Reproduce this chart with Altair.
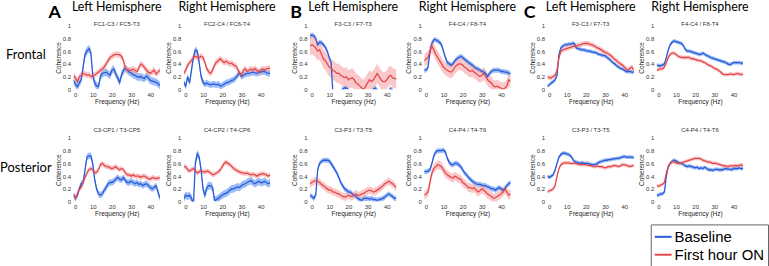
import altair as alt
import pandas as pd

FREQ = list(range(46))
SERIES = ["Baseline", "First hour ON"]

# ---------- Group A ----------
A_L_FRONT_BASE = [0.14, 0.08, 0.04, 0.10, 0.15, 0.35, 0.55, 0.60, 0.64, 0.58, 0.22, 0.10, 0.05, 0.04, 0.20, 0.25,
                  0.26, 0.27, 0.24, 0.22, 0.30, 0.32, 0.24, 0.18, 0.11, 0.22, 0.30, 0.33, 0.30, 0.27, 0.26,
                  0.23, 0.22, 0.20, 0.19, 0.20, 0.18, 0.17, 0.21, 0.18, 0.14, 0.13, 0.12, 0.11, 0.09, 0.06]
A_L_FRONT_FHON = [0.22, 0.18, 0.12, 0.20, 0.22, 0.25, 0.24, 0.22, 0.23, 0.20, 0.21, 0.22, 0.25, 0.27, 0.30, 0.32,
                  0.35, 0.40, 0.45, 0.50, 0.52, 0.54, 0.55, 0.55, 0.54, 0.52, 0.45, 0.33, 0.30, 0.30, 0.30,
                  0.32, 0.30, 0.28, 0.33, 0.40, 0.38, 0.34, 0.30, 0.27, 0.25, 0.28, 0.30, 0.24, 0.27, 0.30]
A_R_FRONT_BASE = [0.11, 0.05, 0.20, 0.10, 0.30, 0.50, 0.62, 0.60, 0.42, 0.20, 0.11, 0.08, 0.10, 0.08, 0.07, 0.08,
                  0.08, 0.07, 0.08, 0.05, 0.06, 0.08, 0.10, 0.11, 0.12, 0.14, 0.15, 0.18, 0.22, 0.26, 0.20,
                  0.22, 0.24, 0.25, 0.25, 0.26, 0.27, 0.26, 0.25, 0.26, 0.27, 0.28, 0.28, 0.26, 0.25, 0.25]
A_R_FRONT_FHON = [0.25, 0.30, 0.38, 0.42, 0.45, 0.50, 0.52, 0.50, 0.50, 0.52, 0.50, 0.42, 0.32, 0.27, 0.25, 0.30,
                  0.38, 0.43, 0.45, 0.48, 0.45, 0.42, 0.44, 0.42, 0.40, 0.41, 0.38, 0.37, 0.32, 0.25, 0.22,
                  0.30, 0.32, 0.28, 0.30, 0.32, 0.30, 0.33, 0.30, 0.27, 0.30, 0.32, 0.30, 0.32, 0.33, 0.33]
A_L_POST_BASE = [0.10, 0.05, 0.10, 0.20, 0.28, 0.30, 0.50, 0.70, 0.72, 0.72, 0.60, 0.35, 0.20, 0.12, 0.10, 0.12,
                 0.18, 0.22, 0.28, 0.30, 0.30, 0.32, 0.35, 0.38, 0.35, 0.34, 0.38, 0.33, 0.30, 0.30, 0.32,
                 0.30, 0.28, 0.30, 0.27, 0.28, 0.25, 0.27, 0.28, 0.25, 0.22, 0.20, 0.22, 0.25, 0.15, 0.05]
A_L_POST_FHON = [0.12, 0.05, 0.12, 0.20, 0.22, 0.30, 0.38, 0.45, 0.50, 0.52, 0.50, 0.45, 0.46, 0.50, 0.58, 0.60,
                 0.57, 0.55, 0.55, 0.53, 0.52, 0.53, 0.55, 0.52, 0.50, 0.52, 0.50, 0.45, 0.42, 0.42, 0.40,
                 0.42, 0.40, 0.40, 0.40, 0.38, 0.40, 0.40, 0.38, 0.36, 0.35, 0.38, 0.37, 0.36, 0.37, 0.37]
A_R_POST_BASE = [0.05, 0.10, 0.08, 0.10, 0.05, -0.05, 0.60, 0.75, 0.70, 0.50, 0.20, 0.10, 0.22, 0.25, 0.25, 0.22,
                 0.02, 0.03, 0.05, 0.08, 0.10, 0.12, 0.13, 0.15, 0.18, 0.20, 0.20, 0.22, 0.23, 0.22, 0.25,
                 0.27, 0.28, 0.30, 0.32, 0.33, 0.30, 0.28, 0.30, 0.32, 0.30, 0.30, 0.32, 0.30, 0.28, 0.30]
A_R_POST_FHON = [0.55, 0.55, 0.50, 0.48, 0.50, 0.52, 0.48, 0.45, 0.47, 0.48, 0.47, 0.46, 0.48, 0.47, 0.45, 0.42,
                 0.43, 0.45, 0.47, 0.50, 0.55, 0.60, 0.62, 0.60, 0.58, 0.55, 0.52, 0.50, 0.48, 0.47, 0.45,
                 0.45, 0.44, 0.45, 0.43, 0.42, 0.43, 0.42, 0.40, 0.42, 0.43, 0.44, 0.43, 0.42, 0.40, 0.42]

# ---------- Group B ----------
B_L_FRONT_BASE = [0.84, 0.85, 0.84, 0.80, 0.70, 0.74, 0.73, 0.70, 0.66, 0.60, 0.50, 0.42, -0.10, -0.10, -0.08, -0.06,
                  -0.04, 0.00, 0.02, 0.02, -0.02, -0.06, -0.10, -0.10, -0.10, -0.10, -0.10, -0.10, -0.10, -0.08,
                  -0.06, -0.06, -0.04, 0.00, 0.02, -0.02, -0.08, -0.10, -0.10, -0.08, -0.06, -0.03, 0.01, -0.02,
                  -0.08, -0.10]
B_L_FRONT_FHON = [0.68, 0.70, 0.68, 0.65, 0.60, 0.62, 0.55, 0.48, 0.45, 0.40, 0.35, 0.33, 0.30, 0.28, 0.25, 0.25,
                  0.22, 0.20, 0.18, 0.20, 0.15, 0.17, 0.18, 0.15, 0.10, 0.08, 0.05, 0.02, 0.00, 0.05, 0.10,
                  0.15, 0.12, 0.15, 0.20, 0.25, 0.20, 0.15, 0.12, 0.12, 0.15, 0.20, 0.22, 0.18, 0.17, 0.16]
B_R_FRONT_BASE = [0.30, 0.30, 0.35, 0.60, 0.72, 0.78, 0.78, 0.76, 0.74, 0.70, 0.60, 0.50, 0.42, 0.40, 0.38, 0.40,
                  0.45, 0.48, 0.50, 0.52, 0.50, 0.47, 0.45, 0.42, 0.40, 0.38, 0.35, 0.33, 0.32, 0.30, 0.28,
                  0.27, 0.25, 0.20, 0.25, 0.28, 0.30, 0.30, 0.30, 0.30, 0.28, 0.28, 0.27, 0.27, 0.25, 0.25]
B_R_FRONT_FHON = [0.45, 0.48, 0.50, 0.60, 0.68, 0.62, 0.55, 0.50, 0.45, 0.40, 0.35, 0.32, 0.30, 0.28, 0.27, 0.30,
                  0.35, 0.38, 0.40, 0.40, 0.38, 0.35, 0.33, 0.30, 0.28, 0.30, 0.27, 0.25, 0.22, 0.20, 0.22,
                  0.25, 0.20, 0.15, 0.12, 0.10, 0.05, 0.04, 0.05, 0.03, 0.02, 0.00, 0.02, 0.05, 0.15, 0.12]
B_L_POST_BASE = [0.10, 0.08, 0.05, 0.10, 0.50, 0.60, 0.63, 0.65, 0.65, 0.65, 0.64, 0.60, 0.55, 0.50, 0.45, 0.38,
                 0.30, 0.25, 0.20, 0.18, 0.15, 0.15, 0.12, 0.10, 0.08, 0.05, 0.03, 0.02, 0.05, 0.05, 0.05,
                 0.04, 0.05, 0.03, 0.03, 0.02, 0.03, 0.04, 0.05, 0.07, 0.10, 0.12, 0.10, 0.08, 0.05, 0.05]
B_L_POST_FHON = [0.28, 0.30, 0.32, 0.33, 0.32, 0.30, 0.27, 0.25, 0.22, 0.20, 0.18, 0.18, 0.15, 0.15, 0.13, 0.12,
                 0.10, 0.08, 0.07, 0.08, 0.10, 0.08, 0.08, 0.10, 0.12, 0.10, 0.10, 0.12, 0.13, 0.15, 0.17,
                 0.18, 0.17, 0.15, 0.16, 0.18, 0.20, 0.22, 0.25, 0.28, 0.30, 0.32, 0.30, 0.28, 0.25, 0.22]
B_R_POST_BASE = [0.47, 0.47, 0.48, 0.50, 0.60, 0.72, 0.78, 0.80, 0.80, 0.80, 0.81, 0.78, 0.68, 0.62, 0.58, 0.58,
                 0.60, 0.60, 0.58, 0.55, 0.50, 0.45, 0.42, 0.38, 0.35, 0.32, 0.30, 0.28, 0.27, 0.27, 0.26,
                 0.25, 0.25, 0.23, 0.22, 0.20, 0.20, 0.18, 0.20, 0.22, 0.20, 0.18, 0.20, 0.25, 0.28, 0.30]
B_R_POST_FHON = [0.10, 0.12, 0.15, 0.30, 0.45, 0.52, 0.55, 0.58, 0.57, 0.55, 0.50, 0.45, 0.42, 0.40, 0.38, 0.37,
                 0.40, 0.38, 0.36, 0.35, 0.30, 0.28, 0.25, 0.22, 0.22, 0.20, 0.22, 0.18, 0.15, 0.17, 0.20,
                 0.18, 0.15, 0.12, 0.10, 0.08, 0.05, 0.06, 0.08, 0.10, 0.12, 0.15, 0.20, 0.15, 0.10, 0.12]

# ---------- Group C ----------
C_L_FRONT_BASE = [0.05, 0.07, 0.10, 0.12, 0.15, 0.22, 0.55, 0.65, 0.68, 0.70, 0.70, 0.71, 0.71, 0.72, 0.72, 0.65,
                  0.64, 0.63, 0.62, 0.62, 0.61, 0.60, 0.60, 0.59, 0.58, 0.58, 0.56, 0.55, 0.54, 0.53, 0.53,
                  0.50, 0.48, 0.45, 0.42, 0.40, 0.37, 0.35, 0.33, 0.32, 0.30, 0.28, 0.28, 0.28, 0.27, 0.27]
C_L_FRONT_FHON = [0.20, 0.18, 0.18, 0.20, 0.22, 0.30, 0.50, 0.60, 0.62, 0.63, 0.64, 0.65, 0.66, 0.67, 0.68, 0.68,
                  0.69, 0.70, 0.71, 0.72, 0.72, 0.72, 0.71, 0.70, 0.69, 0.67, 0.65, 0.64, 0.62, 0.60, 0.58,
                  0.57, 0.55, 0.53, 0.50, 0.47, 0.45, 0.42, 0.40, 0.38, 0.35, 0.32, 0.30, 0.33, 0.35, 0.30]
C_R_FRONT_BASE = [0.38, 0.37, 0.37, 0.38, 0.40, 0.50, 0.62, 0.70, 0.74, 0.76, 0.75, 0.74, 0.73, 0.72, 0.68, 0.62,
                  0.60, 0.60, 0.59, 0.58, 0.57, 0.56, 0.55, 0.55, 0.57, 0.55, 0.53, 0.52, 0.50, 0.49, 0.48,
                  0.47, 0.46, 0.45, 0.44, 0.43, 0.42, 0.40, 0.39, 0.40, 0.42, 0.42, 0.42, 0.42, 0.41, 0.41]
C_R_FRONT_FHON = [0.30, 0.31, 0.32, 0.32, 0.35, 0.42, 0.50, 0.55, 0.57, 0.57, 0.55, 0.52, 0.51, 0.50, 0.50, 0.50,
                  0.50, 0.50, 0.48, 0.48, 0.47, 0.46, 0.45, 0.45, 0.43, 0.42, 0.40, 0.38, 0.37, 0.35, 0.33,
                  0.32, 0.30, 0.28, 0.25, 0.23, 0.23, 0.23, 0.24, 0.24, 0.23, 0.24, 0.25, 0.24, 0.23, 0.24]
C_L_POST_BASE = [0.40, 0.38, 0.40, 0.42, 0.50, 0.60, 0.70, 0.74, 0.76, 0.76, 0.75, 0.74, 0.72, 0.68, 0.63, 0.62,
                 0.61, 0.60, 0.61, 0.60, 0.60, 0.60, 0.59, 0.58, 0.58, 0.58, 0.60, 0.62, 0.63, 0.64, 0.65,
                 0.65, 0.66, 0.66, 0.67, 0.67, 0.68, 0.68, 0.69, 0.70, 0.71, 0.70, 0.70, 0.70, 0.70, 0.69]
C_L_POST_FHON = [0.15, 0.17, 0.18, 0.20, 0.25, 0.40, 0.52, 0.58, 0.60, 0.61, 0.61, 0.61, 0.60, 0.60, 0.60, 0.60,
                 0.59, 0.58, 0.58, 0.58, 0.58, 0.57, 0.57, 0.56, 0.55, 0.55, 0.56, 0.55, 0.55, 0.54, 0.53,
                 0.54, 0.55, 0.55, 0.56, 0.57, 0.56, 0.55, 0.56, 0.58, 0.58, 0.57, 0.56, 0.55, 0.56, 0.57]
C_R_POST_BASE = [0.10, 0.10, 0.12, 0.12, 0.15, 0.40, 0.55, 0.60, 0.63, 0.65, 0.64, 0.62, 0.60, 0.60, 0.58, 0.56,
                 0.55, 0.56, 0.55, 0.54, 0.53, 0.54, 0.52, 0.53, 0.52, 0.54, 0.52, 0.50, 0.50, 0.49, 0.50,
                 0.51, 0.50, 0.50, 0.50, 0.51, 0.52, 0.51, 0.51, 0.50, 0.52, 0.52, 0.52, 0.53, 0.52, 0.52]
C_R_POST_FHON = [0.25, 0.24, 0.26, 0.27, 0.30, 0.45, 0.55, 0.60, 0.63, 0.62, 0.61, 0.60, 0.60, 0.61, 0.62, 0.63,
                 0.64, 0.65, 0.66, 0.67, 0.68, 0.68, 0.68, 0.67, 0.65, 0.64, 0.63, 0.62, 0.62, 0.60, 0.60,
                 0.60, 0.59, 0.58, 0.57, 0.56, 0.56, 0.55, 0.56, 0.56, 0.56, 0.57, 0.56, 0.57, 0.58, 0.56]

# band half-widths (baseline, first hour ON) per panel
HALF_WIDTH = {
    "A_L_FRONT": (0.06, 0.05), "A_R_FRONT": (0.05, 0.05),
    "A_L_POST": (0.05, 0.04), "A_R_POST": (0.06, 0.04),
    "B_L_FRONT": (0.04, 0.15), "B_R_FRONT": (0.04, 0.10),
    "B_L_POST": (0.04, 0.06), "B_R_POST": (0.04, 0.07),
    "C_L_FRONT": (0.03, 0.04), "C_R_FRONT": (0.03, 0.03),
    "C_L_POST": (0.03, 0.03), "C_R_POST": (0.03, 0.03),
}

TITLES = {
    "A_L_FRONT": "FC1-C3 / FC5-T3", "A_R_FRONT": "FC2-C4 / FC6-T4",
    "A_L_POST": "C3-CP1 / T3-CP5", "A_R_POST": "C4-CP2 / T4-CP6",
    "B_L_FRONT": "F3-C3 / F7-T3", "B_R_FRONT": "F4-C4 / F8-T4",
    "B_L_POST": "C3-P3 / T3-T5", "B_R_POST": "C4-P4 / T4-T6",
    "C_L_FRONT": "F3-C3 / F7-T3", "C_R_FRONT": "F4-C4 / F8-T4",
    "C_L_POST": "C3-P3 / T3-T5", "C_R_POST": "C4-P4 / T4-T6",
}

DATA = {
    "A_L_FRONT": (A_L_FRONT_BASE, A_L_FRONT_FHON), "A_R_FRONT": (A_R_FRONT_BASE, A_R_FRONT_FHON),
    "A_L_POST": (A_L_POST_BASE, A_L_POST_FHON), "A_R_POST": (A_R_POST_BASE, A_R_POST_FHON),
    "B_L_FRONT": (B_L_FRONT_BASE, B_L_FRONT_FHON), "B_R_FRONT": (B_R_FRONT_BASE, B_R_FRONT_FHON),
    "B_L_POST": (B_L_POST_BASE, B_L_POST_FHON), "B_R_POST": (B_R_POST_BASE, B_R_POST_FHON),
    "C_L_FRONT": (C_L_FRONT_BASE, C_L_FRONT_FHON), "C_R_FRONT": (C_R_FRONT_BASE, C_R_FRONT_FHON),
    "C_L_POST": (C_L_POST_BASE, C_L_POST_FHON), "C_R_POST": (C_R_POST_BASE, C_R_POST_FHON),
}

LINE_COLORS = ["#2a5bd7", "#e4474b"]
BAND_COLORS = ["#4a86f0", "#f59a9a"]
W, H = 87, 64
AXFONT = "Liberation Sans"
HEAD_FONT = "Lato"


def panel(key, header=None, legend=False):
    base, fhon = DATA[key]
    hb, hr = HALF_WIDTH[key]
    rows = []
    for f, b in zip(FREQ, base):
        rows.append({"freq": f, "series": SERIES[0], "mean": b, "lo": b - hb, "hi": b + hb})
    for f, r in zip(FREQ, fhon):
        rows.append({"freq": f, "series": SERIES[1], "mean": r, "lo": r - hr, "hi": r + hr})
    df = pd.DataFrame(rows)

    x = alt.X("freq:Q", scale=alt.Scale(domain=[0, 45], nice=False),
              axis=alt.Axis(values=[0, 10, 20, 30, 40], title="Frequency (Hz)",
                            labelPadding=2, titlePadding=1))
    yax = alt.Axis(values=[0, 0.2, 0.4, 0.6, 0.8, 1], format="~g", title="Coherence",
                   labelPadding=3, titlePadding=1)
    yscale = alt.Scale(domain=[0, 1], nice=False)

    layers = []
    for s, col in zip(SERIES, BAND_COLORS):
        layers.append(alt.Chart(df).transform_filter(alt.datum.series == s).mark_area(
            fill=col, opacity=0.55, clip=True).encode(
            x=x, y=alt.Y("lo:Q", scale=yscale, axis=yax), y2="hi:Q"))

    if legend:
        leg = alt.Legend(orient="none", legendX=-6, legendY=87, title=None, symbolType="stroke",
                         symbolSize=289, symbolStrokeWidth=2, labelFont="Liberation Sans",
                         labelFontSize=15, labelColor="black", strokeColor="#666",
                         fillColor="white", padding=3, rowPadding=0, labelOffset=2)
    else:
        leg = None
    layers.append(alt.Chart(df).mark_line(strokeWidth=1.3, clip=True).encode(
        x=x,
        y=alt.Y("mean:Q", scale=yscale, axis=yax),
        stroke=alt.Stroke("series:N", scale=alt.Scale(domain=SERIES, range=LINE_COLORS), legend=leg),
    ))
    if header:
        title = alt.TitleParams(text=header, subtitle=TITLES[key], font=HEAD_FONT, fontSize=12.5,
                                fontWeight="normal", color="black", subtitleFont=AXFONT,
                                subtitleFontSize=6, subtitleColor="#333", subtitlePadding=7,
                                offset=-4, anchor="middle", frame="group")
    else:
        title = alt.TitleParams(text=TITLES[key], font=AXFONT, fontSize=6, fontWeight="normal",
                                color="#333", offset=2, anchor="middle", frame="group")
    return alt.layer(*layers).properties(width=W, height=H, title=title)


def spacer(w, letter=None, rowlabel=None):
    """Empty gap column; may carry the panel letter or the row label."""
    labels = []
    if letter:
        labels.append({"t": letter[0], "x": letter[1], "kind": "letter"})
    if rowlabel:
        labels.append({"t": rowlabel, "x": 24, "kind": "row"})
    if not labels:
        return alt.Chart(pd.DataFrame({"s": [0]})).mark_point(opacity=0).encode(
            x=alt.value(0), y=alt.value(0)).properties(width=w, height=H)
    layers = []
    for lab in labels:
        src = alt.Chart(pd.DataFrame({"t": [lab["t"]]}))
        if lab["kind"] == "letter":
            layers.append(src.mark_text(font=HEAD_FONT, fontSize=18, fontWeight="bold", align="center",
                                        baseline="alphabetic", color="black").encode(
                text="t:N", x=alt.value(lab["x"]), y=alt.value(-8)))
        else:
            layers.append(src.mark_text(font=HEAD_FONT, fontSize=13, align="center", baseline="middle",
                                        color="black").encode(
                text="t:N", x=alt.value(lab["x"]), y=alt.value(30)))
    return alt.layer(*layers).properties(width=w, height=H)


LEFT_MARGIN = 72
GAPS = [24, 40, 28, 37, 23]

top_row = [
    spacer(LEFT_MARGIN, letter=("A", LEFT_MARGIN - 19), rowlabel="Frontal"),
    panel("A_L_FRONT", "Left Hemisphere"),
    spacer(GAPS[0]),
    panel("A_R_FRONT", "Right Hemisphere"),
    spacer(GAPS[1], letter=("B", GAPS[1] - 14)),
    panel("B_L_FRONT", "Left Hemisphere"),
    spacer(GAPS[2]),
    panel("B_R_FRONT", "Right Hemisphere"),
    spacer(GAPS[3], letter=("C", GAPS[3] - 18)),
    panel("C_L_FRONT", "Left Hemisphere"),
    spacer(GAPS[4]),
    panel("C_R_FRONT", "Right Hemisphere"),
]
bottom_row = [
    spacer(LEFT_MARGIN, rowlabel="Posterior"),
    panel("A_L_POST"),
    spacer(GAPS[0]),
    panel("A_R_POST"),
    spacer(GAPS[1]),
    panel("B_L_POST"),
    spacer(GAPS[2]),
    panel("B_R_POST"),
    spacer(GAPS[3]),
    panel("C_L_POST"),
    spacer(GAPS[4]),
    panel("C_R_POST", legend=True),
]

cells = top_row + bottom_row

chart = alt.concat(*cells, columns=12, spacing=alt.RowColnumber(row=49, column=0),
                   bounds="flush").resolve_scale(stroke="independent")

chart = chart.properties(padding=0, background="white").configure_axis(
    labelFont=AXFONT, labelFontSize=6, labelColor="#333", titleFont=AXFONT, titleFontSize=6.5,
    titleFontWeight="normal", titleColor="#222", domain=False, ticks=False, tickSize=0, grid=False,
).configure_view(stroke=None)

chart.save("out.html", embed_options={"renderer": "svg", "actions": False})
